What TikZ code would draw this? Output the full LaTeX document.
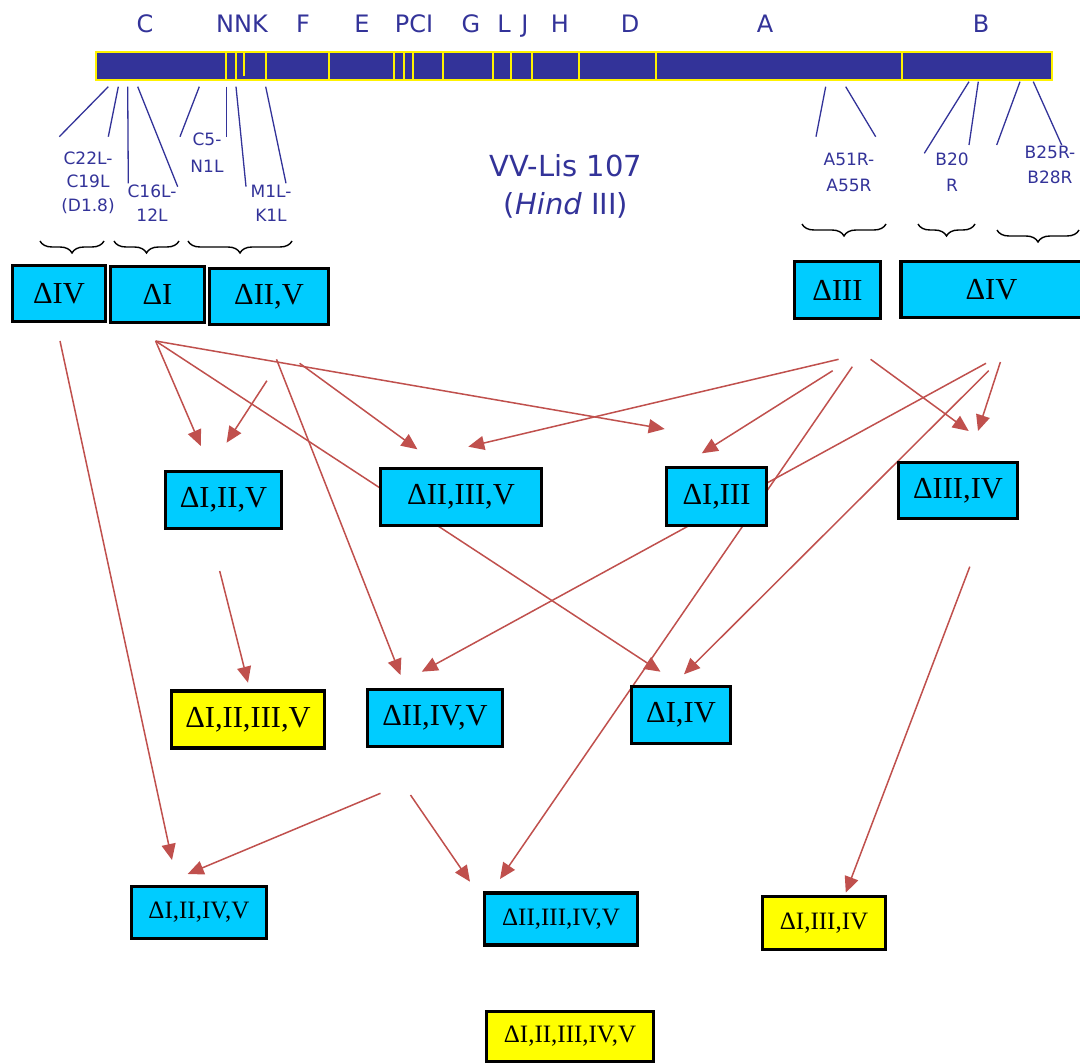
\documentclass[tikz,border=0pt]{standalone}
\usepackage{fontspec}
\setmainfont{Liberation Serif}
\newfontfamily\lblfont{DejaVu Sans}
\usetikzlibrary{arrows.meta,decorations.pathreplacing}
\definecolor{barblue}{HTML}{333399}
\definecolor{boxcyan}{HTML}{00CCFF}
\definecolor{boxyellow}{HTML}{FFFF00}
\definecolor{arrred}{HTML}{C0504D}
\tikzset{
  dbox/.style={draw=black, line width=3.3pt, fill=boxcyan, inner sep=0pt, font=\fontsize{30.5}{36}\selectfont},
  ybox/.style={dbox, fill=boxyellow},
  smalltxt/.style={font=\fontsize{25}{30}\selectfont},
  arr/.style={draw=arrred, line width=1.5pt, -{Triangle[length=16pt,width=14pt]}},
  divider/.style={draw=yellow, line width=2pt},
  tick/.style={draw=barblue, line width=1.3pt},
  lbl/.style={text=barblue, anchor=base, inner sep=0pt, font=\lblfont\fontsize{17}{20}\selectfont},
  toplbl/.style={text=barblue, anchor=base, inner sep=0pt, font=\lblfont\fontsize{24}{28}\selectfont},
  titlelbl/.style={text=barblue, anchor=base, inner sep=0pt, font=\lblfont\fontsize{29}{34}\selectfont},
  brc/.style={draw=black, line width=1.4pt, decorate, decoration={brace, mirror, amplitude=12pt}}
}
\begin{document}
\begin{tikzpicture}[x=1pt,y=-1pt]
\clip (0,0) rectangle (1080,1064);
\fill[white] (0,0) rectangle (1080,1064);

% ---- genome bar ----
\node[toplbl] (lC) at (145,33) {C};
\node[toplbl] (lNNK) at (242,33) {NNK};
\node[toplbl] (lF) at (303,33) {F};
\node[toplbl] (lE) at (362,33) {E};
\node[toplbl] (lPCI) at (414,33) {PCI};
\node[toplbl] (lG) at (471,33) {G};
\node[toplbl] (lL) at (504,33) {L};
\node[toplbl] (lJ) at (525,33) {J};
\node[toplbl] (lH) at (560,33) {H};
\node[toplbl] (lD) at (630,33) {D};
\node[toplbl] (lA) at (765,33) {A};
\node[toplbl] (lB) at (981,33) {B};

\draw[fill=barblue, draw=yellow, line width=2.8pt] (96,52) rectangle (1052,80);
\foreach \xx in {225.7,235.7,265.7,329.3,393.6,403.6,413.2,442.9,492.9,511.4,531.8,578.6,656,901.7}
  \draw[divider] (\xx,53) -- (\xx,79);
\draw[divider] (243.6,53) -- (243.6,76);

% ---- ticks to labels ----
\draw[tick] (108.3,86.7) -- (59.3,136.7);
\draw[tick] (118.3,86.7) -- (108.3,136.7);
\draw[tick] (127.7,86.7) -- (128.3,183.3);
\draw[tick] (137.7,86.7) -- (177.7,186.7);
\draw[tick] (199.3,86.7) -- (180,136.7);
\draw[tick] (226.7,86.7) -- (226.7,136.7);
\draw[tick] (236,86.7) -- (246,186.7);
\draw[tick] (265.7,86.7) -- (286,183.3);
\draw[tick] (825.7,86.7) -- (816,136.7);
\draw[tick] (845.7,86.7) -- (875.7,136.7);
\draw[tick] (969,81.7) -- (924.3,153.3);
\draw[tick] (978.3,81.7) -- (969,145);
\draw[tick] (1020,81.7) -- (996.7,145);
\draw[tick] (1033.3,81.7) -- (1061.7,145);

\node[lbl] (t1a) at (88,165) {C22L-};
\node[lbl] (t1b) at (88,188) {C19L};
\node[lbl] (t1c) at (88,212) {(D1.8)};
\node[lbl] (t2a) at (152,198) {C16L-};
\node[lbl] (t2b) at (152,221.5) {12L};
\node[lbl] (t3a) at (207,145.5) {C5-};
\node[lbl] (t3b) at (207,173) {N1L};
\node[lbl] (t4a) at (271,198) {M1L-};
\node[lbl] (t4b) at (271,221.5) {K1L};
\node[lbl] (t5a) at (849,165.5) {A51R-};
\node[lbl] (t5b) at (849,191.5) {A55R};
\node[lbl] (t6a) at (952,165.5) {B20};
\node[lbl] (t6b) at (952,191.5) {R};
\node[lbl] (t7a) at (1050,159) {B25R-};
\node[lbl] (t7b) at (1050,184) {B28R};

\node[titlelbl] (title1) at (566,176.5) {VV-Lis 107};
\node[titlelbl] (title2) at (566,215) {(\textit{Hind} III)};

% ---- braces ----
\draw[brc] (40,241) -- (104,241);
\draw[brc] (114,241) -- (179,241);
\draw[brc] (188,241) -- (292,241);
\draw[brc] (802,224) -- (886,224);
\draw[brc] (918,224) -- (975,224);
\draw[brc] (997,230) -- (1079,230);

% ---- arrow end points ----
\coordinate (s1) at (60,341);      \coordinate (e1) at (172,860);
\coordinate (sI) at (155.6,341);
\coordinate (e2) at (200.8,446);
\coordinate (e3) at (660.5,671.7);
\coordinate (e4) at (664.7,429);
\coordinate (s5) at (266.9,380.7); \coordinate (e5) at (226.6,442.7);
\coordinate (s6) at (276.5,359.3); \coordinate (e6) at (400.5,675);
\coordinate (s7) at (299.6,363.3); \coordinate (e7) at (417.4,449.3);
\coordinate (s8) at (838.6,359.3); \coordinate (e8) at (468.3,446.7);
\coordinate (s9) at (832.7,370.7); \coordinate (e9) at (701.8,453.3);
\coordinate (s10) at (852.3,366.7); \coordinate (e10) at (500,879);
\coordinate (s11) at (870.6,359.3); \coordinate (e11) at (968.7,431);
\coordinate (s12) at (986,363.3);  \coordinate (e12) at (421.8,671.7);
\coordinate (s13) at (988.7,370.7); \coordinate (e13) at (684,674.3);
\coordinate (s14) at (1000.4,362); \coordinate (e14) at (978,431);
\coordinate (s15) at (219.7,571);  \coordinate (e15) at (248,682.7);
\coordinate (s16) at (969.8,566.7); \coordinate (e16) at (845.8,892.7);
\coordinate (s17) at (380.5,793.3); \coordinate (e17) at (187.7,874);
\coordinate (s18) at (410.5,795);  \coordinate (e18) at (470,881.7);

\draw[arr] (s1) -- (e1);
\draw[arr] (sI) -- (e2);
\draw[arr] (sI) -- (e3);
\draw[arr] (sI) -- (e4);
\draw[arr] (s5) -- (e5);
\draw[arr] (s6) -- (e6);
\draw[arr] (s7) -- (e7);
\draw[arr] (s8) -- (e8);
\draw[arr] (s9) -- (e9);
\draw[arr] (s10) -- (e10);
\draw[arr] (s11) -- (e11);
\draw[arr] (s12) -- (e12);
\draw[arr] (s13) -- (e13);
\draw[arr] (s14) -- (e14);
\draw[arr] (s15) -- (e15);
\draw[arr] (s16) -- (e16);
\draw[arr] (s17) -- (e17);
\draw[arr] (s18) -- (e18);

% ---- boxes ----
\node[dbox, minimum width=93pt, minimum height=56pt] (dIV) at (59,293.5) {ΔIV};
\node[dbox, minimum width=94pt, minimum height=56pt] (dI) at (157.5,294.5) {ΔI};
\node[dbox, minimum width=119pt, minimum height=56pt] (dIIV) at (269,296.5) {ΔII,V};
\node[dbox, minimum width=86pt, minimum height=57pt] (dIII) at (837.5,290) {ΔIII};
\node[dbox, minimum width=181pt, minimum height=56pt] (dIVr) at (991.5,289.5) {ΔIV};

\node[dbox, minimum width=116pt, minimum height=57pt] (dIIIV) at (223.5,500) {ΔI,II,V};
\node[dbox, minimum width=161pt, minimum height=57pt] (dIIIIIV) at (461,497) {ΔII,III,V};
\node[dbox, minimum width=100pt, minimum height=58pt] (dIIII) at (716.5,496.5) {ΔI,III};
\node[dbox, minimum width=119pt, minimum height=56pt] (dIIIIV) at (958,490.5) {ΔIII,IV};

\node[ybox, minimum width=153pt, minimum height=57pt] (dIIIIIIV) at (248,719.5) {ΔI,II,III,V};
\node[dbox, minimum width=135pt, minimum height=57pt] (dIIIVV) at (435,718) {ΔII,IV,V};
\node[dbox, minimum width=99pt, minimum height=57pt] (dIIV2) at (681,715) {ΔI,IV};

\node[dbox, smalltxt, minimum width=135pt, minimum height=52pt] (dr4a) at (199,912.5) {ΔI,II,IV,V};
\node[dbox, smalltxt, minimum width=153pt, minimum height=52pt] (dr4b) at (561,919) {ΔII,III,IV,V};
\node[ybox, smalltxt, minimum width=123pt, minimum height=53pt] (dr4c) at (824,923) {ΔI,III,IV};
\node[ybox, smalltxt, minimum width=167pt, minimum height=50pt] (dr5) at (570,1036.5) {ΔI,II,III,IV,V};
\end{tikzpicture}
\end{document}
